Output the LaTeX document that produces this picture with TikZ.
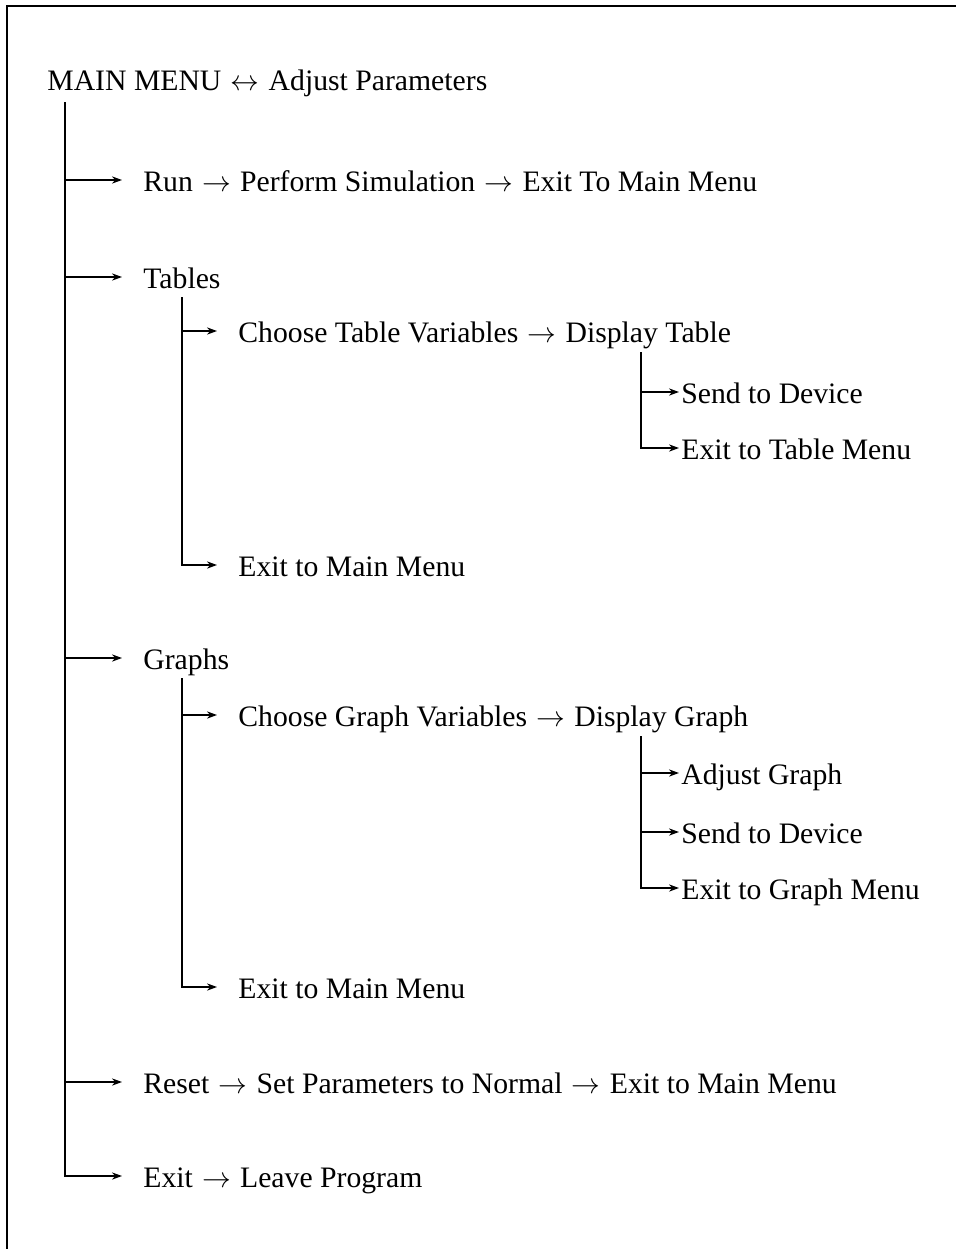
\documentclass[tikz,border=0pt]{standalone}
\usepackage{fontspec}
\setmainfont{Liberation Serif}
\usetikzlibrary{arrows.meta}
\newcommand{\rarr}{\hspace{0.9pt}$\rightarrow$\hspace{0.9pt}}
\newcommand{\lrarr}{\hspace{0.9pt}$\leftrightarrow$\hspace{0.9pt}}
\begin{document}
\begin{tikzpicture}[x=0.5pt,y=-0.5pt,
  lbl/.style={anchor=base west, inner sep=0pt, font=\fontsize{14.85pt}{18pt}\selectfont},
  conn/.style={line width=0.6pt},
  arr/.style={conn, -{Stealth[length=5pt,width=3.6pt]}}]
\useasboundingbox (0,0) rectangle (956,1249);
\draw[line width=0.7pt] (7,1249) -- (7,6) -- (956,6);
% texts
\node[lbl] (main) at (47,90) {MAIN MENU \lrarr{} Adjust Parameters};
\node[lbl] (run) at (143,191) {Run \rarr{} Perform Simulation \rarr{} Exit To Main Menu};
\node[lbl] (tables) at (143,288) {Tables};
\node[lbl] (ctv) at (238,342) {Choose Table Variables \rarr{} Display Table};
\node[lbl] (sdt) at (681,403) {Send to Device};
\node[lbl] (etm) at (681,459) {Exit to Table Menu};
\node[lbl] (emm1) at (238,576) {Exit to Main Menu};
\node[lbl] (graphs) at (143,669) {Graphs};
\node[lbl] (cgv) at (238,726) {Choose Graph Variables \rarr{} Display Graph};
\node[lbl] (adj) at (681,784) {Adjust Graph};
\node[lbl] (sdg) at (681,843) {Send to Device};
\node[lbl] (egm) at (681,899) {Exit to Graph Menu};
\node[lbl] (emm2) at (238,998) {Exit to Main Menu};
\node[lbl] (reset) at (143,1093) {Reset \rarr{} Set Parameters to Normal \rarr{} Exit to Main Menu};
\node[lbl] (exit) at (143,1187) {Exit \rarr{} Leave Program};
% trunk tops
\coordinate (t0) at (65,102);
\coordinate (t1) at (182,297);
\coordinate (t2) at (641,352);
\coordinate (t3) at (182,678);
\coordinate (t4) at (641,736);
% connectors
\foreach \n in {run,tables,graphs,reset,exit}
  \draw[arr] (t0) |- ([shift={(-21,-11)}]\n.base west);
\foreach \n in {ctv,emm1}
  \draw[arr] (t1) |- ([shift={(-21,-11)}]\n.base west);
\foreach \n in {sdt,etm}
  \draw[arr] (t2) |- ([shift={(-2,-11)}]\n.base west);
\foreach \n in {cgv,emm2}
  \draw[arr] (t3) |- ([shift={(-21,-11)}]\n.base west);
\foreach \n in {adj,sdg,egm}
  \draw[arr] (t4) |- ([shift={(-2,-11)}]\n.base west);
\end{tikzpicture}
\end{document}
